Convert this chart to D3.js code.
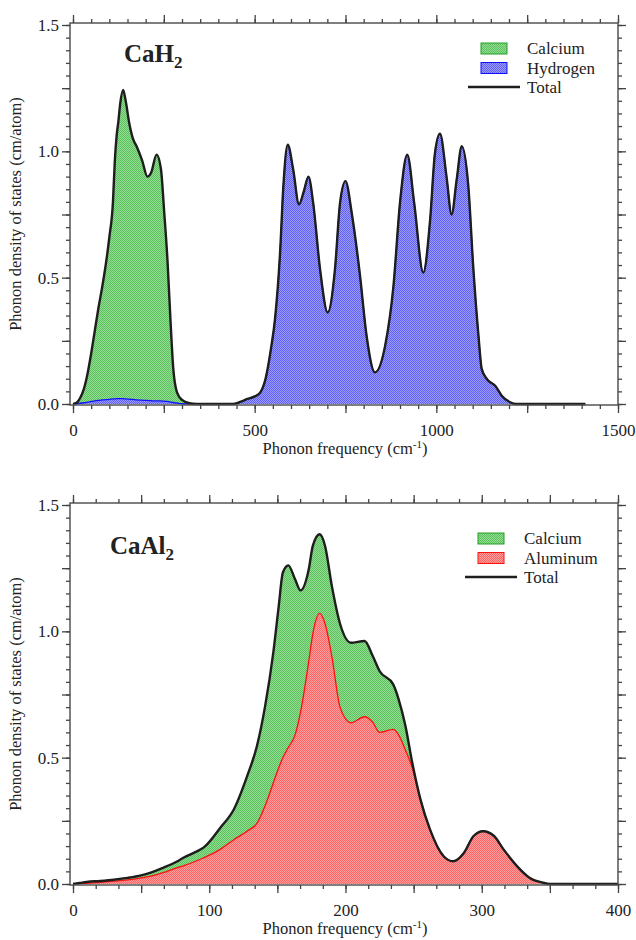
<!DOCTYPE html>
<html>
<head>
<meta charset="utf-8">
<script src="https://cdn.jsdelivr.net/npm/d3@7"></script>
<style>
body{margin:0;background:#fff}
text{font-family:"Liberation Serif","Times New Roman",serif;fill:#222}
</style>
</head>
<body>
<svg id="fig" width="636" height="940"></svg>
<script>
//------------------- Données -------------------
// CaH2
var cah2Freq = [0,10,20,30,40,50,60,70,80,90,100,110,115,120,125,130,138,145,155,165,175,190,205,215,230,242,251,260,268,276,286,300,320,340,
  440,460,480,500,515,530,545,556,570,579,591,606,622,635,648,661,680,701,721,735,750,767,790,808,831,859,882,900,920,939,964,983,996,1010,1028,1042,1056,1070,1088,1102,1116,1125,1139,1162,1180,1203,1220,1410];
var cah2Total = [0,0.005,0.025,0.06,0.12,0.2,0.29,0.38,0.46,0.55,0.66,0.8,0.96,1.06,1.12,1.19,1.243,1.2,1.11,1.05,1.02,0.965,0.9,0.915,0.987,0.93,0.76,0.57,0.34,0.14,0.047,0.016,0.003,0,
  0,0.008,0.02,0.03,0.045,0.1,0.22,0.336,0.6,0.862,1.026,0.928,0.79,0.84,0.9,0.796,0.533,0.362,0.533,0.796,0.882,0.757,0.507,0.27,0.125,0.23,0.467,0.796,0.987,0.796,0.52,0.73,0.99,1.07,0.9,0.75,0.888,1.02,0.862,0.533,0.27,0.138,0.099,0.072,0.033,0.007,0,0];
var cah2Hydrogen = [0,0.001,0.003,0.005,0.007,0.01,0.012,0.014,0.016,0.017,0.018,0.02,0.02,0.021,0.021,0.021,0.021,0.02,0.019,0.018,0.016,0.015,0.014,0.013,0.012,0.012,0.011,0.01,0.008,0.006,0.004,0.001,0,0,
  0,0.008,0.02,0.03,0.045,0.1,0.22,0.336,0.6,0.862,1.026,0.928,0.79,0.84,0.9,0.796,0.533,0.362,0.533,0.796,0.882,0.757,0.507,0.27,0.125,0.23,0.467,0.796,0.987,0.796,0.52,0.73,0.99,1.07,0.9,0.75,0.888,1.02,0.862,0.533,0.27,0.138,0.099,0.072,0.033,0.007,0,0];

// CaAl2
var caal2Freq = [0,5,10,20,30,40,50,57,66,76,81,90,96,108,118,128,135,141,147,151,154,158,163,167,173,176,181,185,190,196,204,214,220,225,235,239,244,249,255,262,272,279,287,294,301,309,316,326,335,345,350,400];
var caal2Total = [0,0.004,0.008,0.012,0.017,0.024,0.034,0.045,0.064,0.088,0.104,0.127,0.145,0.222,0.295,0.43,0.546,0.704,0.916,1.1,1.232,1.261,1.206,1.162,1.245,1.338,1.384,1.338,1.179,1.03,0.955,0.962,0.902,0.843,0.79,0.731,0.625,0.48,0.335,0.216,0.11,0.09,0.124,0.19,0.209,0.19,0.137,0.07,0.025,0.005,0,0];
var caal2Aluminum = [0,0.002,0.003,0.007,0.011,0.016,0.024,0.031,0.045,0.064,0.072,0.09,0.104,0.137,0.175,0.21,0.24,0.31,0.4,0.46,0.5,0.54,0.59,0.68,0.88,0.99,1.071,1.03,0.9,0.7,0.638,0.662,0.64,0.6,0.612,0.59,0.53,0.46,0.335,0.216,0.11,0.09,0.124,0.19,0.209,0.19,0.137,0.07,0.025,0.005,0,0];

// graduations
var cah2XLabels = [0,500,1000,1500];
var caal2XLabels = [0,100,200,300,400];
var yLabels = [0,0.5,1.0,1.5];

//------------------- Motifs de remplissage -------------------
var svg = d3.select("#fig");
var defs = svg.append("defs");

function motif(id, fond, point){
    var p = defs.append("pattern").attr("id", id)
        .attr("width", 2).attr("height", 2)
        .attr("patternUnits", "userSpaceOnUse");
    p.append("rect").attr("width", 2).attr("height", 2).attr("fill", fond);
    p.append("rect").attr("width", 1).attr("height", 1).attr("fill", point);
    p.append("rect").attr("x", 1).attr("y", 1).attr("width", 1).attr("height", 1).attr("fill", point);
}
motif("vert", "#93dc93", "#5cc05c");
motif("bleu", "#9c9cff", "#6060f2");
motif("rouge", "#ffa0a0", "#ff6464");

//------------------- Un panneau -------------------
function panneau(cfg){
    var gauche = 70, droite = 618, haut = cfg.haut, bas = cfg.bas;
    var g = svg.append("g");
    var x = d3.scaleLinear().domain(cfg.xDomain).range([73, droite]);
    var y = d3.scaleLinear().domain([0, 1.5]).range([bas - 1, haut + 2]);

    var pts = function(vals){ return cfg.freq.map(function(f, i){ return [f, vals[i]]; }); };
    var aire = d3.area().curve(d3.curveMonotoneX)
        .x(function(d){ return x(d[0]); }).y0(y(0)).y1(function(d){ return y(d[1]); });
    var ligne = d3.line().curve(d3.curveMonotoneX)
        .x(function(d){ return x(d[0]); }).y(function(d){ return y(d[1]); });

    g.append("path").attr("d", aire(pts(cfg.total))).attr("fill", "url(#vert)");
    g.append("path").attr("d", aire(pts(cfg.partiel))).attr("fill", "url(#" + cfg.motif + ")");
    g.append("path").attr("d", ligne(pts(cfg.partiel))).attr("fill", "none")
        .attr("stroke", cfg.couleur).attr("stroke-width", 1.3);
    g.append("path").attr("d", ligne(pts(cfg.total))).attr("fill", "none")
        .attr("stroke", "#1e1e1e").attr("stroke-width", 2.4).attr("stroke-linejoin", "round");

    // cadre
    g.append("rect").attr("x", gauche).attr("y", haut)
        .attr("width", droite - gauche).attr("height", bas - haut)
        .attr("fill", "none").attr("stroke", "#555").attr("stroke-width", 1.5);

    function nettoie(sel){
        sel.select(".domain").remove();
        sel.selectAll("line").attr("stroke", "#444").attr("stroke-width", 1.3);
        sel.attr("font-size", 17).attr("font-family", null);
    }
    var fmtX = function(d){ return cfg.xLabels.indexOf(d) >= 0 ? String(d) : ""; };
    var fmtY = function(d){ return yLabels.indexOf(d) >= 0 ? d.toFixed(1) : ""; };

    // axe x (bas et haut)
    g.append("g").attr("transform", "translate(0," + bas + ")")
        .call(d3.axisBottom(x).tickValues(cfg.xMinor).tickSize(4).tickFormat("")).call(nettoie);
    g.append("g").attr("transform", "translate(0," + bas + ")")
        .call(d3.axisBottom(x).tickValues(cfg.xMajor).tickSize(8).tickPadding(11).tickFormat(fmtX)).call(nettoie);
    g.append("g").attr("transform", "translate(0," + haut + ")")
        .call(d3.axisTop(x).tickValues(cfg.xMinor).tickSize(4).tickFormat("")).call(nettoie);
    g.append("g").attr("transform", "translate(0," + haut + ")")
        .call(d3.axisTop(x).tickValues(cfg.xMajor).tickSize(8).tickFormat("")).call(nettoie);

    // axe y (gauche et droite)
    var yMinor = d3.range(0, 1.501, 0.05), yMajor = d3.range(0, 1.501, 0.25).map(function(v){ return Math.round(v*100)/100; });
    g.append("g").attr("transform", "translate(" + gauche + ",0)")
        .call(d3.axisLeft(y).tickValues(yMinor).tickSize(4).tickFormat("")).call(nettoie);
    g.append("g").attr("transform", "translate(" + gauche + ",0)")
        .call(d3.axisLeft(y).tickValues(yMajor).tickSize(8).tickPadding(3).tickFormat(fmtY)).call(nettoie);
    g.append("g").attr("transform", "translate(" + droite + ",0)")
        .call(d3.axisRight(y).tickValues(yMinor).tickSize(4).tickFormat("")).call(nettoie);
    g.append("g").attr("transform", "translate(" + droite + ",0)")
        .call(d3.axisRight(y).tickValues(yMajor).tickSize(8).tickFormat("")).call(nettoie);

    // titres d'axes
    var tx = g.append("text").attr("x", 345).attr("y", bas + 49)
        .attr("text-anchor", "middle").attr("font-size", 16.5);
    tx.append("tspan").text("Phonon frequency (cm");
    tx.append("tspan").attr("dy", -6).attr("font-size", 11).text("-1");
    tx.append("tspan").attr("dy", 6).text(")");
    g.append("text").attr("transform", "translate(21," + ((haut + bas) / 2) + ") rotate(-90)")
        .attr("text-anchor", "middle").attr("font-size", 16.5)
        .text("Phonon density of states (cm/atom)");

    // formule
    var f = g.append("text").attr("x", cfg.formuleX).attr("y", cfg.formuleY)
        .attr("font-size", 25).attr("font-weight", "bold");
    f.append("tspan").text(cfg.formule);
    f.append("tspan").attr("dy", 6).attr("font-size", 17).text("2");

    // légende
    var lx = cfg.legX, ly = cfg.legY;
    g.append("rect").attr("x", lx).attr("y", ly).attr("width", 26).attr("height", 11)
        .attr("fill", "url(#vert)").attr("stroke", "#22a022").attr("stroke-width", 1);
    g.append("rect").attr("x", lx).attr("y", ly + 19.5).attr("width", 26).attr("height", 11)
        .attr("fill", "url(#" + cfg.motif + ")").attr("stroke", cfg.couleur).attr("stroke-width", 1);
    g.append("line").attr("x1", lx - 13).attr("x2", lx + 39).attr("y1", ly + 44).attr("y2", ly + 44)
        .attr("stroke", "#1e1e1e").attr("stroke-width", 2.4);
    var noms = ["Calcium", cfg.nom, "Total"];
    noms.forEach(function(n, i){
        g.append("text").attr("x", lx + 46).attr("y", ly + 11 + i * 19.5)
            .attr("font-size", 17).text(n);
    });
}

panneau({
    haut: 23, bas: 405, xDomain: [0, 1500],
    freq: cah2Freq, total: cah2Total, partiel: cah2Hydrogen,
    motif: "bleu", couleur: "#1010ff", nom: "Hydrogen",
    xLabels: cah2XLabels, xMinor: d3.range(0, 1501, 50), xMajor: d3.range(0, 1501, 250),
    formule: "CaH", formuleX: 124, formuleY: 62,
    legX: 481, legY: 43
});
panneau({
    haut: 503, bas: 885, xDomain: [0, 400],
    freq: caal2Freq, total: caal2Total, partiel: caal2Aluminum,
    motif: "rouge", couleur: "#ff1010", nom: "Aluminum",
    xLabels: caal2XLabels, xMinor: d3.range(0, 25).map(function(i){ return i * 100 / 6; }), xMajor: d3.range(0, 401, 50),
    formule: "CaAl", formuleX: 110, formuleY: 554,
    legX: 478, legY: 533
});
</script>
</body>
</html>
